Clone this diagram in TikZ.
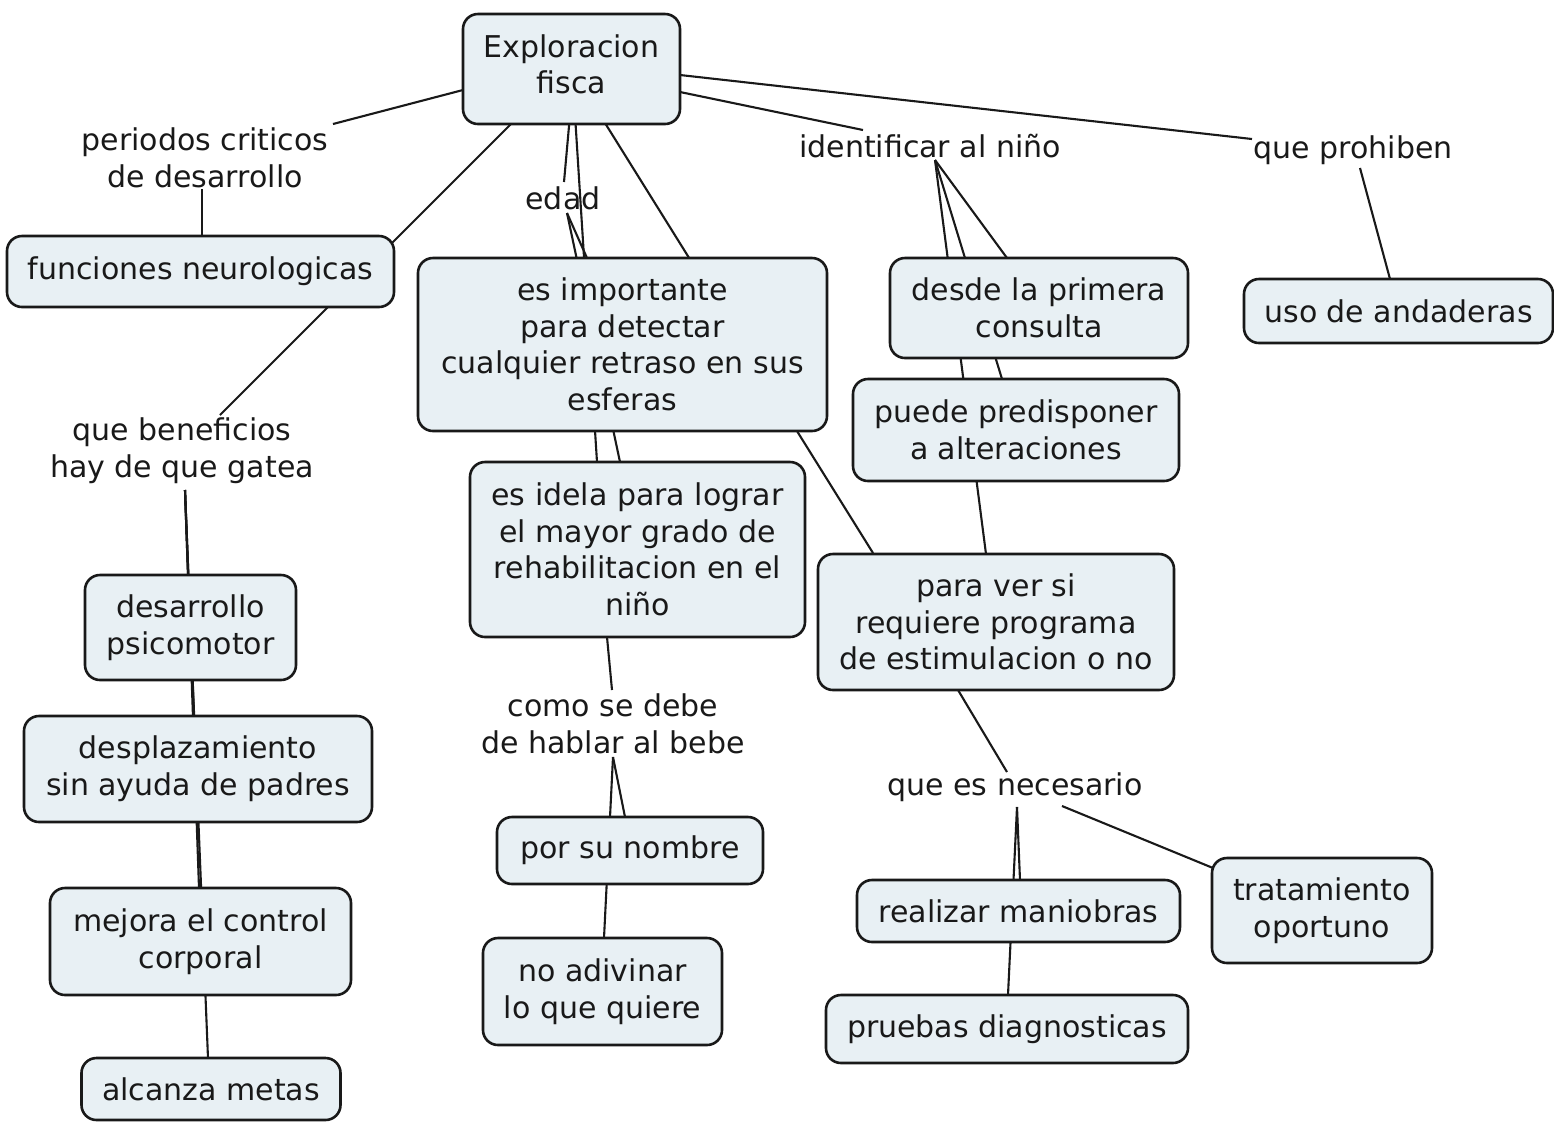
\documentclass[tikz,border=0pt]{standalone}
\usepackage{fontspec}
\setmainfont{DejaVu Sans}
\usetikzlibrary{calc,backgrounds}
\definecolor{boxfill}{RGB}{232,240,244}
\definecolor{inkc}{RGB}{25,25,25}
\tikzset{
  concept/.style 2 args={rectangle, rounded corners=7.5pt, draw=inkc, line width=1.3pt,
    fill=boxfill, text=inkc, align=center, inner sep=0pt,
    minimum width=#1*0.5pt, minimum height=#2*0.5pt,
    font=\fontsize{15}{18.3}\selectfont},
  linkp/.style={align=center, inner sep=0pt, text=inkc, font=\fontsize{15}{18.3}\selectfont},
  conn/.style={draw=inkc, line width=1.05pt}
}
\begin{document}
\begin{tikzpicture}[x=0.5pt,y=-0.5pt]
\useasboundingbox (0,0) rectangle (1554,1121);
% concepts
\node[concept={217}{110}, text depth=5pt] (ef) at (571.5,69) {Exploracion\\fisca};
\node[concept={387}{71}] (fn) at (200.5,271.5) {funciones neurologicas};
\node[concept={211}{105}] (dp) at (190.5,627.5) {desarrollo\\psicomotor};
\node[concept={348}{106}] (ds) at (198,769) {desplazamiento\\sin ayuda de padres};
\node[concept={301}{107}] (mc) at (200.5,941.5) {mejora el control\\corporal};
\node[concept={259}{62}] (am) at (211,1089) {alcanza metas};
\node[concept={409}{173}] (ei) at (622.5,344.5) {es importante\\para detectar\\cualquier retraso en sus\\esferas};
\node[concept={335}{175}] (il) at (637.5,549.5) {es idela para lograr\\el mayor grado de\\rehabilitacion en el\\niño};
\node[concept={266}{67}] (ps) at (630,850.5) {por su nombre};
\node[concept={239}{107}] (na) at (602.5,991.5) {no adivinar\\lo que quiere};
\node[concept={298}{100}] (dl) at (1039,308) {desde la primera\\consulta};
\node[concept={326}{102}] (pp) at (1016,430) {puede predisponer\\a alteraciones};
\node[concept={356}{136}] (pv) at (996,622) {para ver si\\requiere programa\\de estimulacion o no};
\node[concept={323}{62}] (rm) at (1018.5,911) {realizar maniobras};
\node[concept={362}{68}] (pd) at (1007,1029) {pruebas diagnosticas};
\node[concept={220}{105}] (tr) at (1322,910.5) {tratamiento\\oportuno};
\node[concept={309}{64}] (ua) at (1398.5,311) {uso de andaderas};
% linking phrases
\node[linkp] (pc) at (205,158) {periodos criticos\\de desarrollo};
\node[linkp] (qb) at (182,451) {que beneficios\\hay de que gatea};
\node[linkp] (ed) at (563,198) {edad};
\node[linkp] (cs) at (613,724) {como se debe\\de hablar al bebe};
\node[linkp] (idn) at (930,146) {identificar al niño};
\node[linkp] (qp) at (1353,150) {que prohiben};
\node[linkp] (qn) at (1015,787) {que es necesario};
% connectors
\begin{pgfonlayer}{background}
\fill[white] (0,0) rectangle (1554,1121);
\draw[conn] ($(ef)+(-108.5,21)$) -- ($(pc)+(128,-34)$);
\draw[conn] ($(pc)+(-3,31)$) -- ($(fn)+(1.5,-35.5)$);
\draw[conn] ($(ef)+(-51.5,46)$) -- ($(qb)+(38,-36)$);
\draw[conn] ($(qb)+(3,39)$) -- ($(dp)+(-2.5,-52.5)$);
\draw[conn] ($(qb)+(3,39)$) -- ($(ds)+(-4,-53)$);
\draw[conn] ($(qb)+(3,39)$) -- ($(mc)+(-1.5,-53.5)$);
\draw[conn] ($(qb)+(3,39)$) -- ($(am)+(-3,-31)$);
\draw[conn] ($(ef)+(-1.5,46)$) -- ($(ed)+(1,-16)$);
\draw[conn] ($(ef)+(3.5,46)$) -- ($(il)+(-40.5,-87.5)$);
\draw[conn] ($(ed)+(4,15)$) -- ($(ei)+(-35.5,-86.5)$);
\draw[conn] ($(ed)+(4,15)$) -- ($(il)+(-17.5,-87.5)$);
\draw[conn] ($(ef)+(28.5,46)$) -- ($(pv)+(-123,-69)$);
\draw[conn] ($(il)+(-30.5,87.5)$) -- ($(cs)+(-1,-34)$);
\draw[conn] ($(cs)+(0,33)$) -- ($(na)+(1.5,-53.5)$);
\draw[conn] ($(cs)+(0,33)$) -- ($(ps)+(-5,-33.5)$);
\draw[conn] ($(ef)+(108.5,23)$) -- ($(idn)+(-67,-16)$);
\draw[conn] ($(idn)+(5,14)$) -- ($(dl)+(-32,-50)$);
\draw[conn] ($(idn)+(5,14)$) -- ($(pp)+(-14,-51)$);
\draw[conn] ($(idn)+(5,14)$) -- ($(pv)+(-10,-68)$);
\draw[conn] ($(ef)+(108.5,6)$) -- ($(qp)+(-101,-11)$);
\draw[conn] ($(qp)+(7,18)$) -- ($(ua)+(-8.5,-32)$);
\draw[conn] ($(pv)+(-38,68)$) -- ($(qn)+(-8,-15)$);
\draw[conn] ($(qn)+(2,20)$) -- ($(pd)+(1,-34)$);
\draw[conn] ($(qn)+(2,20)$) -- ($(rm)+(1.5,-31)$);
\draw[conn] ($(qn)+(47,19)$) -- ($(tr)+(-109,-42.5)$);
\end{pgfonlayer}
\end{tikzpicture}
\end{document}
